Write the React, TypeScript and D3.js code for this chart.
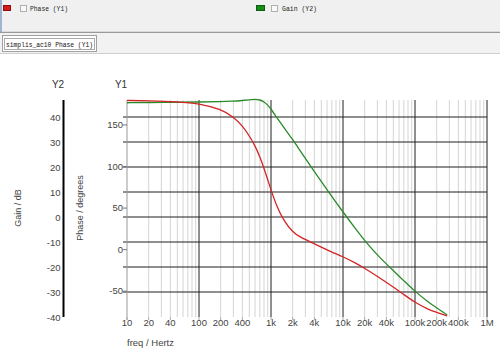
import React from "react";
import * as d3 from "d3";

const freqs = [10, 20, 50, 100, 200, 300, 400, 500, 600, 700, 800, 900, 1000, 1200, 1500, 2000, 2500, 3500, 5000, 7000, 10000, 15000, 20000, 30000, 50000, 70000, 100000, 150000, 200000, 280000];
const phaseDeg = [179.5, 179, 178, 176, 169, 160, 149, 137, 125, 112, 98, 84, 72, 52, 35, 21, 15.5, 9.5, 2.8, -3, -8.5, -16, -22.5, -32, -45, -54, -63.5, -71.5, -75.5, -79.8];
const gainDb = [45.7, 45.8, 45.9, 46.0, 46.1, 46.3, 46.6, 46.9, 47.1, 46.9, 46.1, 44.8, 43.2, 39.8, 35.9, 31.0, 26.8, 20.6, 14.2, 8.2, 2.0, -4.8, -9.4, -15.3, -21.5, -25.5, -29.8, -33.8, -36.4, -39.2];
const xTickValues = [10, 20, 40, 100, 200, 400, 1000, 2000, 4000, 10000, 20000, 40000, 100000, 200000, 400000, 1000000];
const xTickLabels = ["10", "20", "40", "100", "200", "400", "1k", "2k", "4k", "10k", "20k", "40k", "100k", "200k", "400k", "1M"];
const y1Ticks = [-50, 0, 50, 100, 150];
const y2Ticks = [-40, -30, -20, -10, 0, 10, 20, 30, 40];

const FONT = "'Liberation Sans', Arial, sans-serif";
const MONO = "'Liberation Mono', 'DejaVu Sans Mono', monospace";

export default function App() {
  const left = 127, right = 487, top = 100, bottom = 317;
  const x = d3.scaleLog().domain([10, 1e6]).range([left, right]);
  const y1 = d3.scaleLinear().domain([-81, 180]).range([bottom, top]);
  const y2 = d3.scaleLinear().domain([-40, 46.8]).range([bottom, top]);

  const phaseLine = d3.line<number>()
    .x((_, i) => x(freqs[i]))
    .y((d) => y1(d))
    .curve(d3.curveBasis)(phaseDeg) || "";
  const gainLine = d3.line<number>()
    .x((_, i) => x(freqs[i]))
    .y((d) => y2(d))
    .curve(d3.curveBasis)(gainDb) || "";

  const minor: number[] = [];
  const major: number[] = [];
  for (let dec = 10; dec < 1e6; dec *= 10) {
    for (let m = 2; m <= 9; m++) minor.push(dec * m);
    major.push(dec * 10);
  }

  return (
    <svg width={500} height={356} style={{ position: "absolute", left: 0, top: 0, background: "#fff" }}>
      {/* header */}
      <rect x={0} y={0} width={500} height={32} fill="#f0f0f0" />
      <rect x={0} y={0} width={2} height={32} fill="#9db4d2" />
      <line x1={0} x2={500} y1={32.5} y2={32.5} stroke="#9a9a9a" strokeWidth={1.5} />
      <rect x={0} y={33} width={500} height={20} fill="#f2f2f2" />
      <line x1={0} x2={500} y1={53.5} y2={53.5} stroke="#cfcfcf" />

      {/* legend */}
      <rect x={3.5} y={5.5} width={7} height={5} fill="#d41a1a" stroke="#8a1010" />
      <rect x={20.5} y={5.5} width={6} height={6} fill="#f8f8f8" stroke="#b0b0b0" />
      <text x={30} y={11} fontFamily={MONO} fontSize={8} fill="#222" textLength={38} lengthAdjust="spacingAndGlyphs">Phase (Y1)</text>
      <rect x={256.5} y={5.5} width={8} height={5} fill="#1a8a1a" stroke="#0e5a0e" />
      <rect x={271.5} y={5.5} width={6} height={6} fill="#f8f8f8" stroke="#b0b0b0" />
      <text x={282} y={11} fontFamily={MONO} fontSize={8} fill="#222" textLength={35} lengthAdjust="spacingAndGlyphs">Gain (Y2)</text>

      {/* tab */}
      <rect x={2.5} y={35.5} width={94} height={16} fill="#fff" stroke="#a0a0a0" />
      <rect x={4.5} y={38.5} width={90} height={11} fill="none" stroke="#555" strokeDasharray="1,1" />
      <text x={6} y={47} fontFamily={MONO} fontSize={8} fill="#111" textLength={87} lengthAdjust="spacingAndGlyphs">simplis_ac10 Phase (Y1)</text>

      {/* vertical grid */}
      {minor.map((f) => (
        <line key={"mi" + f} x1={x(f)} x2={x(f)} y1={top} y2={bottom} stroke="#d4d4d4" strokeWidth={1} />
      ))}
      {/* horizontal grid */}
      {y2Ticks.filter((t) => t > -40).map((t) => (
        <line key={"h" + t} x1={left - 4} x2={right} y1={y2(t)} y2={y2(t)} stroke="#1e1e1e" strokeWidth={1} />
      ))}
      {major.map((f) => (
        <line key={"ma" + f} x1={x(f)} x2={x(f)} y1={top} y2={bottom} stroke="#1e1e1e" strokeWidth={1} />
      ))}

      {/* Y1 axis */}
      <line x1={left} x2={left} y1={top} y2={bottom + 3} stroke="#999" strokeWidth={1} />
      {y1Ticks.map((t) => (
        <g key={"y1" + t}>
          <line x1={left - 4} x2={left} y1={y1(t)} y2={y1(t)} stroke="#777" />
          <text x={left - 4} y={y1(t) + 3} textAnchor="end" fontFamily={FONT} fontSize={9.5} fill="#444">{t}</text>
        </g>
      ))}
      <text x={121} y={88} textAnchor="middle" fontFamily={FONT} fontSize={10} fill="#333">Y1</text>

      {/* Y2 axis */}
      <line x1={63.5} x2={63.5} y1={top} y2={bottom} stroke="#000" strokeWidth={2} />
      {y2Ticks.map((t) => (
        <text key={"y2" + t} x={60.5} y={y2(t) + 3.5} textAnchor="end" fontFamily={FONT} fontSize={9.5} fill="#444">{t}</text>
      ))}
      <text x={58} y={88} textAnchor="middle" fontFamily={FONT} fontSize={10} fill="#333">Y2</text>

      {/* axis titles */}
      <text transform={`translate(21,208) rotate(-90)`} textAnchor="middle" fontFamily={FONT} fontSize={9} fill="#444">Gain / dB</text>
      <text transform={`translate(83,208) rotate(-90)`} textAnchor="middle" fontFamily={FONT} fontSize={9} fill="#444">Phase / degrees</text>

      {/* X axis labels */}
      {xTickValues.map((f, i) => (
        <g key={"x" + f}>
          <line x1={x(f)} x2={x(f)} y1={bottom} y2={bottom + 3} stroke="#aaa" />
          <text x={x(f)} y={326} textAnchor="middle" fontFamily={FONT} fontSize={9.5} fill="#444">{xTickLabels[i]}</text>
        </g>
      ))}
      <text x={127} y={346} fontFamily={FONT} fontSize={9.5} fill="#444">freq / Hertz</text>

      {/* curves */}
      <path d={gainLine} fill="none" stroke="#2a8a2a" strokeWidth={1.3} />
      <path d={phaseLine} fill="none" stroke="#d42424" strokeWidth={1.3} />
    </svg>
  );
}
